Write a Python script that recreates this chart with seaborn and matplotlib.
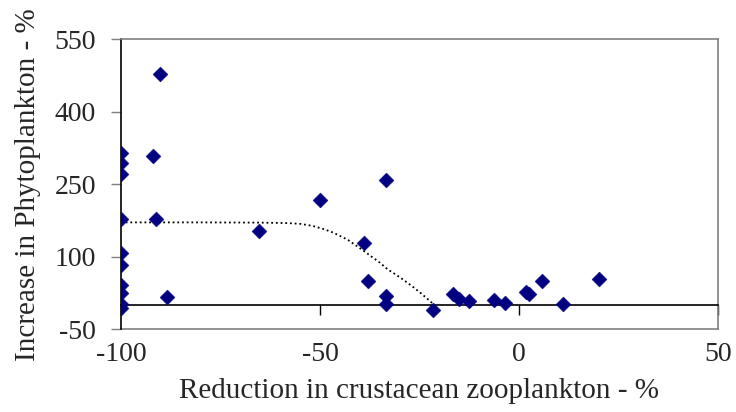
import matplotlib
matplotlib.use("Agg")
import matplotlib.pyplot as plt
import seaborn as sns
import pandas as pd

# Observed responses
zoo_reduction = [-100, -100, -100, -100, -100, -100, -100, -100, -100, -100,
                 -91.9, -91.3, -90.1, -88.5, -65.3, -49.9, -39.0, -37.9,
                 -33.5, -33.5, -33.5, -21.5, -16.5, -15.0, -12.5, -6.3,
                 -3.5, 1.8, 2.4, 5.8, 11.1, 20.2]
phyto_increase = [314, 293, 272, 178, 108, 82, 41, 25, 2, -5,
                  308, 178, 477, 17, 153, 218, 128, 49,
                  259, 18, 3, -10, 24, 13, 8, 11,
                  4, 27, 22, 49, 3, 53]

# Fitted trend (dotted)
trend_x = [-100, -80, -65, -58, -55, -52, -49, -46.7, -43, -39, -35, -33,
           -30, -27, -25, -23, -21.5]
trend_y = [171, 171, 170.5, 169.5, 168, 164, 157, 150, 135, 112, 88, 74,
           58, 40, 27, 13, 2]

x_ticks = [-100, -50, 0, 50]
y_ticks = [-50, 100, 250, 400, 550]

df = pd.DataFrame({"x": zoo_reduction, "y": phyto_increase})
trend = pd.DataFrame({"x": trend_x, "y": trend_y})

sns.set_style("white")
plt.rcParams["font.family"] = ["Liberation Serif", "DejaVu Serif"]

fig = plt.figure(figsize=(7.36, 4.12), dpi=100)
ax = fig.add_axes([0.1644, 0.2007, 0.8111, 0.7046])

sns.lineplot(data=trend, x="x", y="y", ax=ax, color="black", linestyle=(0, (1, 1.6)),
             linewidth=1.3, sort=False, zorder=2)
sns.scatterplot(data=df, x="x", y="y", ax=ax, marker="D", s=58, color="#000080",
                edgecolor="#000080", linewidth=0.3, zorder=3)

ax.set_xlim(-100, 50)
ax.set_ylim(-50, 550)

# Frame
for side in ["top", "right"]:
    ax.spines[side].set_color("#808080")
    ax.spines[side].set_linewidth(1.2)
ax.spines["left"].set_color("black")
ax.spines["left"].set_linewidth(1.2)

# x axis line crosses at y = 0 with outward ticks, labels stay at the bottom
ax.spines["bottom"].set_position(("data", 0))
ax.spines["bottom"].set_color("black")
ax.spines["bottom"].set_linewidth(1.2)
ax.set_xticks(x_ticks)
ax.tick_params(axis="x", direction="out", length=7, width=1.0, color="black",
               labelbottom=False, bottom=True)

sec = ax.secondary_xaxis(0.0)
sec.set_xticks(x_ticks)
sec.set_xticklabels([str(v) for v in x_ticks])
sec.tick_params(axis="x", length=0, pad=9, labelsize=20)
sec.spines["bottom"].set_color("#808080")
sec.spines["bottom"].set_linewidth(1.2)
sec.set_xlabel("Reduction in crustacean zooplankton - %", fontsize=21, labelpad=8)

ax.set_yticks(y_ticks)
ax.set_yticklabels([str(v) for v in y_ticks])
ax.tick_params(axis="y", direction="out", length=7, width=1.0, color="#808080",
               pad=11, labelsize=20, left=True)
ax.set_xlabel("")
ax.set_ylabel("Increase in Phytoplankton - %", fontsize=21, labelpad=10)

fig.savefig("out.png", dpi=100)
